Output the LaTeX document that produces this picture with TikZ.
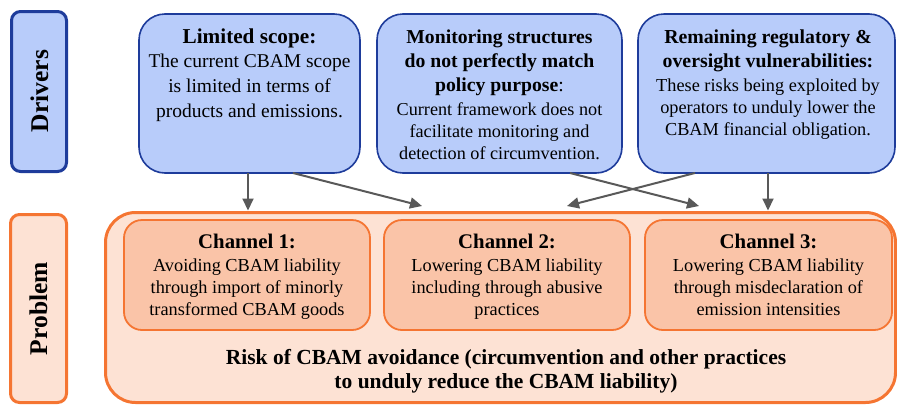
\documentclass[tikz,border=0pt]{standalone}
\usepackage{fontspec}
\setmainfont{Liberation Serif}
\usetikzlibrary{arrows.meta}
\definecolor{bfill}{RGB}{184,204,250}
\definecolor{bline}{RGB}{30,60,155}
\definecolor{oline}{RGB}{245,117,50}
\definecolor{pfill}{RGB}{253,226,212}
\definecolor{cfill}{RGB}{250,196,168}
\definecolor{agray}{RGB}{89,89,89}
\newcommand{\fs}[2]{\fontsize{#1pt}{#2pt}\selectfont}
\tikzset{
 box/.style={draw, rectangle, inner sep=0pt, outer sep=0pt},
 drvbox/.style={box, fill=bfill, draw=bline, line width=1.6pt, rounded corners=26pt},
 lblblue/.style={box, fill=bfill, draw=bline, line width=3pt, rounded corners=9pt},
 lblor/.style={box, fill=pfill, draw=oline, line width=3pt, rounded corners=9pt},
 probbox/.style={box, fill=pfill, draw=oline, line width=3pt, rounded corners=30pt},
 chbox/.style={box, fill=cfill, draw=oline, line width=1.8pt, rounded corners=18pt},
 txt/.style={anchor=base, align=center, inner sep=0pt, outer sep=0pt},
 lbltxt/.style={anchor=center, rotate=90, inner sep=0pt, font=\fs{25.5}{28}\bfseries},
 arr/.style={draw=agray, line width=2pt, -{Triangle[length=12pt,width=11pt]}}
}
\begin{document}
\begin{tikzpicture}[x=1pt,y=-1pt]
\useasboundingbox (0,0) rectangle (897,405);
% side labels
\node[lblblue, minimum width=55pt, minimum height=160pt] (drv) at (39,91.5) {};
\node[lbltxt] (drvt) at (39.5,91) {Drivers};
\node[lblor, minimum width=56pt, minimum height=188pt] (prl) at (38.5,308.5) {};
\node[lbltxt] (prlt) at (38.5,308.5) {Problem};
% driver boxes
\node[drvbox, minimum width=221pt, minimum height=159pt] (d1) at (249.5,93.5) {};
\node[drvbox, minimum width=245pt, minimum height=159pt] (d2) at (499.5,93.5) {};
\node[drvbox, minimum width=257pt, minimum height=159pt] (d3) at (766.5,93.5) {};
% (multi-line text nodes: base = baseline of last line)
\node[txt, font=\fs{21.2}{25}\bfseries] (d1a) at (249.5,43) {Limited scope:};
\node[txt, font=\fs{19.5}{25}] (d1b) at (249.5,117) {The current CBAM scope\\is limited in terms of\\products and emissions.};
\node[txt, font=\fs{19.7}{24}] (d2a) at (499.5,91) {\textbf{Monitoring structures}\\\textbf{do not perfectly match}\\\textbf{policy purpose}:};
\node[txt, font=\fs{18.2}{22}] (d2b) at (499.5,159) {Current framework does not\\facilitate monitoring and\\detection of circumvention.};
\node[txt, font=\fs{19.8}{24}\bfseries] (d3a) at (768,67) {Remaining regulatory \&\\oversight vulnerabilities:};
\node[txt, font=\fs{18.3}{22}] (d3b) at (768,135) {These risks being exploited by\\operators to unduly lower the\\CBAM financial obligation.};
% problem box
\node[probbox, minimum width=790pt, minimum height=190pt] (prob) at (500.5,307.5) {};
\node[chbox, minimum width=246pt, minimum height=110pt] (c1) at (247,275) {};
\node[chbox, minimum width=246pt, minimum height=110pt] (c2) at (507,275) {};
\node[chbox, minimum width=247pt, minimum height=110pt] (c3) at (768.5,275) {};
\node[txt, font=\fs{20.8}{23}\bfseries] (c1a) at (247,248) {Channel 1:};
\node[txt, font=\fs{18.3}{22}] (c1b) at (247,315) {Avoiding CBAM liability\\through import of minorly\\transformed CBAM goods};
\node[txt, font=\fs{20.8}{23}\bfseries] (c2a) at (507,248) {Channel 2:};
\node[txt, font=\fs{18.3}{22}] (c2b) at (507,315) {Lowering CBAM liability\\including through abusive\\practices};
\node[txt, font=\fs{20.8}{23}\bfseries] (c3a) at (768.5,248) {Channel 3:};
\node[txt, font=\fs{18.3}{22}] (c3b) at (768.5,315) {Lowering CBAM liability\\through misdeclaration of\\emission intensities};
\node[txt, font=\fs{21.5}{23.5}\bfseries] (pt) at (506,388) {Risk of CBAM avoidance (circumvention and other practices\\to unduly reduce the CBAM liability)};
% arrow ends
\coordinate (e1) at (248,210.5);
\coordinate (e2) at (422,206);
\coordinate (e3) at (699,206);
\coordinate (e4) at (567,206);
\coordinate (e5) at (768,210.5);
\draw[arr] ([xshift=-1.5pt]d1.south) -- (e1);
\draw[arr] ([xshift=43.5pt]d1.south) -- (e2);
\draw[arr] ([xshift=70.5pt]d2.south) -- (e3);
\draw[arr] ([xshift=-71.5pt]d3.south) -- (e4);
\draw[arr] ([xshift=1.5pt]d3.south) -- (e5);
\end{tikzpicture}
\end{document}
